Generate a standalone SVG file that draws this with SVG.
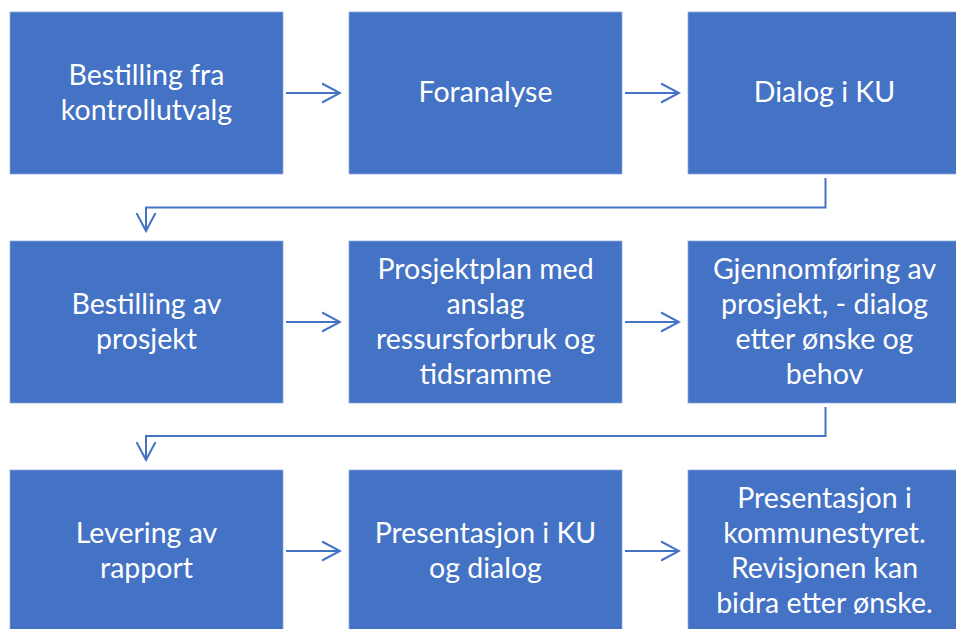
<svg xmlns="http://www.w3.org/2000/svg" width="956" height="629" viewBox="0 0 956 629">
<style>
.box{fill:#4472C4;stroke:#8FAADC;stroke-width:0.75}
.t{font-family:Lato,"Liberation Sans",sans-serif;font-size:28.5px;fill:#FFFFFF;text-anchor:middle}
.c{fill:none;stroke:#4472C4;stroke-width:2;stroke-linejoin:miter}
</style>
<defs>
<marker id="ah" markerWidth="20" markerHeight="22" refX="18" refY="11" orient="auto" markerUnits="userSpaceOnUse">
<path d="M0,1.5 L18,11 L0,20.5" fill="none" stroke="#4472C4" stroke-width="2"/>
</marker>
</defs>
<g id="connectors">
<path class="c" d="M286,93 H340" marker-end="url(#ah)"/>
<path class="c" d="M625,93 H679" marker-end="url(#ah)"/>
<path class="c" d="M825.5,178 V207.5 H146 V231" marker-end="url(#ah)"/>
<path class="c" d="M286,322 H340" marker-end="url(#ah)"/>
<path class="c" d="M625,322 H679" marker-end="url(#ah)"/>
<path class="c" d="M825.5,407 V436 H146 V460" marker-end="url(#ah)"/>
<path class="c" d="M286,551 H340" marker-end="url(#ah)"/>
<path class="c" d="M625,551 H679" marker-end="url(#ah)"/>
</g>
<g id="n1"><rect class="box" x="10" y="12" width="273" height="162"/>
<text class="t" x="146.5" y="84.5">Bestilling fra</text><text class="t" x="146.5" y="119.5">kontrollutvalg</text></g>
<g id="n2"><rect class="box" x="349" y="12" width="273" height="162"/>
<text class="t" x="485.5" y="102">Foranalyse</text></g>
<g id="n3"><rect class="box" x="688" y="12" width="273" height="162"/>
<text class="t" x="824.5" y="102">Dialog i KU</text></g>
<g id="n4"><rect class="box" x="10" y="241" width="273" height="162"/>
<text class="t" x="146.5" y="313.5">Bestilling av</text><text class="t" x="146.5" y="348.5">prosjekt</text></g>
<g id="n5"><rect class="box" x="349" y="241" width="273" height="162"/>
<text class="t" x="485.5" y="278.5">Prosjektplan med</text><text class="t" x="485.5" y="313.5">anslag</text><text class="t" x="485.5" y="348.5">ressursforbruk og</text><text class="t" x="485.5" y="383.5">tidsramme</text></g>
<g id="n6"><rect class="box" x="688" y="241" width="273" height="162"/>
<text class="t" x="824.5" y="278.5">Gjennomføring av</text><text class="t" x="824.5" y="313.5">prosjekt, - dialog</text><text class="t" x="824.5" y="348.5">etter ønske og</text><text class="t" x="824.5" y="383.5">behov</text></g>
<g id="n7"><rect class="box" x="10" y="470" width="273" height="162"/>
<text class="t" x="146.5" y="542.5">Levering av</text><text class="t" x="146.5" y="577.5">rapport</text></g>
<g id="n8"><rect class="box" x="349" y="470" width="273" height="162"/>
<text class="t" x="485.5" y="542.5">Presentasjon i KU</text><text class="t" x="485.5" y="577.5">og dialog</text></g>
<g id="n9"><rect class="box" x="688" y="470" width="273" height="162"/>
<text class="t" x="824.5" y="507.5">Presentasjon i</text><text class="t" x="824.5" y="542.5">kommunestyret.</text><text class="t" x="824.5" y="577.5">Revisjonen kan</text><text class="t" x="824.5" y="612.5">bidra etter ønske.</text></g>
</svg>
